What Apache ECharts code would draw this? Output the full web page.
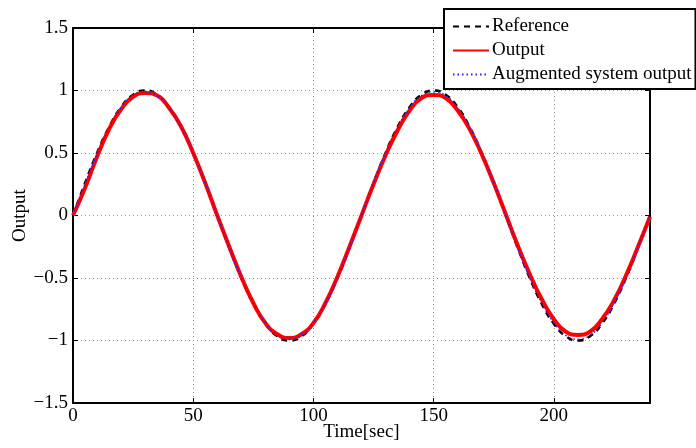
<!DOCTYPE html>
<html>
<head>
<meta charset="utf-8">
<script src="https://cdn.jsdelivr.net/npm/echarts@6/dist/echarts.min.js"></script>
<style>
html, body { margin: 0; padding: 0; background: #fff; }
#chart { width: 696px; height: 448px; }
</style>
</head>
<body>
<div id="chart"></div>
<script>
// 数据 (step 5 sec)
var time = [0, 5, 10, 15, 20, 25, 30, 35, 40, 45, 50, 55, 60, 65, 70, 75, 80, 85, 90, 95, 100, 105, 110, 115, 120,
    125, 130, 135, 140, 145, 150, 155, 160, 165, 170, 175, 180, 185, 190, 195, 200, 205, 210, 215, 220, 225, 230, 235, 240];
var reference = [0, 0.259, 0.5, 0.707, 0.866, 0.966, 1, 0.966, 0.866, 0.707, 0.5, 0.259, 0, -0.259, -0.5, -0.707, -0.866, -0.966, -1, -0.966, -0.866, -0.707, -0.5, -0.259, 0,
    0.259, 0.5, 0.707, 0.866, 0.966, 1, 0.966, 0.866, 0.707, 0.5, 0.259, 0, -0.259, -0.5, -0.707, -0.866, -0.966, -1, -0.966, -0.866, -0.707, -0.5, -0.259, 0];
var output = [0, 0.22, 0.47, 0.69, 0.85, 0.95, 0.98, 0.96, 0.86, 0.71, 0.5, 0.26, 0.0, -0.25, -0.49, -0.7, -0.86, -0.95, -0.98, -0.95, -0.86, -0.7, -0.49, -0.25, 0.0,
    0.25, 0.48, 0.68, 0.84, 0.94, 0.965, 0.94, 0.84, 0.69, 0.49, 0.26, 0.01, -0.24, -0.47, -0.67, -0.83, -0.93, -0.955, -0.93, -0.83, -0.68, -0.48, -0.25, -0.01];
var augmented = [0, 0.25, 0.49, 0.7, 0.86, 0.96, 0.99, 0.96, 0.86, 0.7, 0.5, 0.26, 0.0, -0.26, -0.5, -0.7, -0.86, -0.96, -0.99, -0.96, -0.86, -0.7, -0.5, -0.26, 0.0,
    0.26, 0.5, 0.7, 0.86, 0.96, 0.99, 0.96, 0.86, 0.7, 0.5, 0.26, 0.0, -0.26, -0.5, -0.7, -0.86, -0.96, -0.99, -0.96, -0.86, -0.7, -0.5, -0.26, 0.0];
var xTicks = [0, 50, 100, 150, 200];
var yTicks = [-1.5, -1, -0.5, 0, 0.5, 1, 1.5];

function pairs(ys) {
    return time.map(function (t, i) { return [t, ys[i]]; });
}

var font = 'Liberation Serif';
var chart = echarts.init(document.getElementById('chart'));

var option = {
    animation: false,
    backgroundColor: '#fff',
    grid: { left: 73, top: 28, right: 46, bottom: 45, containLabel: false, outerBoundsMode: 'none' },
    legend: {
        orient: 'vertical',
        left: 444,
        top: 9,
        padding: [8, 4, 5, 8],
        itemGap: 5,
        itemWidth: 36,
        itemHeight: 14,
        backgroundColor: '#fff',
        borderColor: '#000',
        borderWidth: 2,
        itemStyle: { opacity: 0 },
        textStyle: { fontFamily: font, fontSize: 19, color: '#000', padding: [0, 0, 0, -2] },
        data: ['Reference', 'Output', 'Augmented system output']
    },
    xAxis: [{
        type: 'value',
        min: 0,
        max: 240,
        interval: 50,
        name: 'Time[sec]',
        nameLocation: 'middle',
        nameGap: 20,
        nameMoveOverlap: false,
        nameTextStyle: { fontFamily: font, fontSize: 19, color: '#000' },
        axisLine: { onZero: false, lineStyle: { color: '#000', width: 2 } },
        axisTick: { inside: true, length: 5, lineStyle: { color: '#000', width: 1 } },
        axisLabel: { showMaxLabel: false, fontFamily: font, fontSize: 19, color: '#000', margin: 4 },
        splitLine: { show: true, lineStyle: { color: '#999', type: [1, 3], width: 1 } }
    }, {
        type: 'value',
        position: 'top',
        min: 0,
        max: 240,
        interval: 50,
        axisLine: { show: true, onZero: false, lineStyle: { color: '#000', width: 2 } },
        axisTick: { inside: true, length: 5, lineStyle: { color: '#000' } },
        axisLabel: { show: false },
        splitLine: { show: false }
    }],
    yAxis: [{
        type: 'value',
        min: -1.5,
        max: 1.5,
        interval: 0.5,
        name: 'Output',
        nameLocation: 'middle',
        nameGap: 43,
        nameMoveOverlap: false,
        nameTextStyle: { fontFamily: font, fontSize: 19, color: '#000' },
        axisLine: { show: true, onZero: false, lineStyle: { color: '#000', width: 2 } },
        axisTick: { show: true, inside: true, length: 5, lineStyle: { color: '#000' } },
        axisLabel: {
            fontFamily: font, fontSize: 19, color: '#000', margin: 5,
            formatter: function (v) { return String(v).replace('-', '\u2212'); }
        },
        splitLine: { show: true, lineStyle: { color: '#999', type: [1, 3], width: 1 } }
    }, {
        type: 'value',
        position: 'right',
        min: -1.5,
        max: 1.5,
        interval: 0.5,
        axisLine: { show: true, onZero: false, lineStyle: { color: '#000', width: 2 } },
        axisTick: { show: true, inside: true, length: 5, lineStyle: { color: '#000' } },
        axisLabel: { show: false },
        splitLine: { show: false }
    }],
    series: [
        {
            name: 'Reference',
            type: 'line',
            data: pairs(reference),
            symbol: 'none',
            smooth: true,
            lineStyle: { color: '#000', width: 2.5, type: [6, 5] },
            itemStyle: { color: '#000' }
        },
        {
            name: 'Output',
            type: 'line',
            data: pairs(output),
            symbol: 'none',
            smooth: true,
            lineStyle: { color: '#ff0000', width: 4 },
            itemStyle: { color: '#ff0000' }
        },
        {
            name: 'Augmented system output',
            type: 'line',
            data: pairs(augmented),
            symbol: 'none',
            smooth: true,
            lineStyle: { color: '#2222ff', width: 1.5, type: [1.5, 3] },
            itemStyle: { color: '#2222ff' }
        }
    ]
};
chart.setOption(option);
</script>
</body>
</html>
